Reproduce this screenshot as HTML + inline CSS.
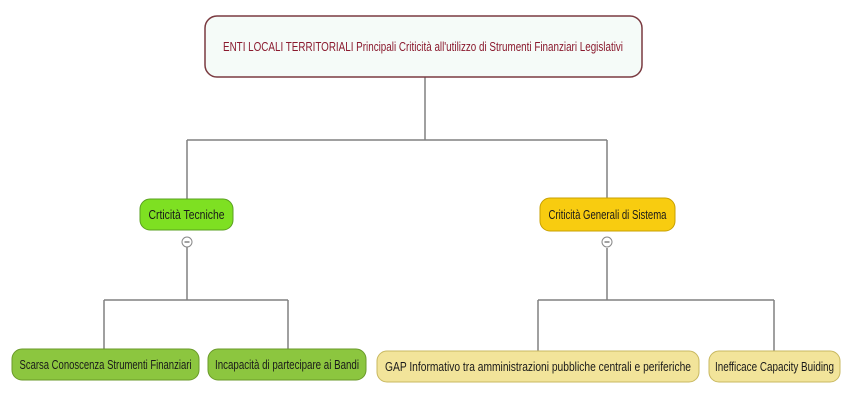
<!DOCTYPE html>
<html><head><meta charset="utf-8"><style>
html,body{margin:0;padding:0;background:#fff;width:850px;height:402px;overflow:hidden}
text{font-family:"Liberation Sans Narrow","Liberation Sans",sans-serif;font-size:13px}
</style></head><body>
<svg width="850" height="402" viewBox="0 0 850 402" xmlns="http://www.w3.org/2000/svg">
<g stroke="#808080" stroke-width="1.5" fill="none">
<path d="M425 77V140M187 140H607M187 140V199M607 140V198"/>
<path d="M187 247V300M104 300H288M104 300V349M288 300V349"/>
<path d="M607 248V300M538 300H774M538 300V351M774 300V351"/>
</g>
<rect x="205" y="16" width="437" height="61" rx="12" fill="#f5fbf8" stroke="#7a3a40" stroke-width="1.5"/>
<text x="423" y="51" text-anchor="middle" fill="#8a1a2e" textLength="400" lengthAdjust="spacingAndGlyphs">ENTI LOCALI TERRITORIALI   Principali Criticità all'utilizzo di Strumenti Finanziari Legislativi</text>
<rect x="140" y="199" width="93" height="31" rx="10" fill="#7ee022" stroke="#5aa020"/>
<text x="186.5" y="219" text-anchor="middle" fill="#1a1a1a" textLength="76" lengthAdjust="spacingAndGlyphs">Crticità Tecniche</text>
<circle cx="187" cy="242" r="5" fill="#fff" stroke="#888"/><path d="M184.5 242h5" stroke="#444"/>
<rect x="540" y="198" width="135" height="33" rx="10" fill="#f8cc10" stroke="#c8a000"/>
<text x="607.5" y="219" text-anchor="middle" fill="#1a1a1a" textLength="118" lengthAdjust="spacingAndGlyphs">Criticità Generali di Sistema</text>
<circle cx="607" cy="242" r="5" fill="#fff" stroke="#888"/><path d="M604.5 242h5" stroke="#444"/>
<rect x="12" y="349" width="187" height="31" rx="10" fill="#8cc63f" stroke="#6a9a2a"/>
<text x="105.5" y="369" text-anchor="middle" fill="#1a1a1a" textLength="172" lengthAdjust="spacingAndGlyphs">Scarsa Conoscenza Strumenti Finanziari</text>
<rect x="208" y="349" width="158" height="31" rx="10" fill="#8cc63f" stroke="#6a9a2a"/>
<text x="287" y="369" text-anchor="middle" fill="#1a1a1a" textLength="144" lengthAdjust="spacingAndGlyphs">Incapacità di partecipare ai Bandi</text>
<rect x="377" y="351" width="322" height="31" rx="10" fill="#f2e49a" stroke="#c8b860"/>
<text x="538" y="371" text-anchor="middle" fill="#1a1a1a" textLength="306" lengthAdjust="spacingAndGlyphs">GAP Informativo tra amministrazioni pubbliche centrali e periferiche</text>
<rect x="709" y="351" width="131" height="31" rx="10" fill="#f2e49a" stroke="#c8b860"/>
<text x="774.5" y="371" text-anchor="middle" fill="#1a1a1a" textLength="119" lengthAdjust="spacingAndGlyphs">Inefficace Capacity Buiding</text>
</svg>
</body></html>
